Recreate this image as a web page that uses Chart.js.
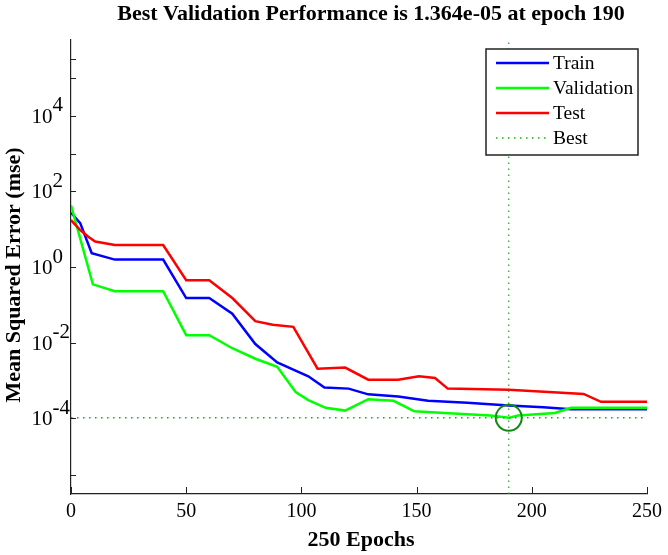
<!DOCTYPE html>
<html>
<head>
<meta charset="utf-8">
<script src="https://cdn.jsdelivr.net/npm/chart.js@4.4.1/dist/chart.umd.min.js"></script>
<style>
  html, body { margin: 0; padding: 0; background: #fff; }
  #wrap { width: 668px; height: 555px; }
</style>
</head>
<body>
<div id="wrap"><canvas id="perfChart" width="668" height="555"></canvas></div>
<script>
// values (epoch, mse)
const trainEpochs = [0, 4, 9, 19, 40, 50, 60, 70, 80, 89.5, 96, 103, 110, 120.5, 129, 142, 155, 172, 190, 205, 217, 250];
const trainMse = [27.2, 14.4, 2.31, 1.57, 1.58, 0.151, 0.151, 0.0585, 0.0092, 0.0030, 0.0020, 0.00129, 6.5e-4, 6.1e-4, 4.3e-4, 3.76e-4, 2.91e-4, 2.6e-4, 2.2e-4, 1.95e-4, 1.75e-4, 1.75e-4];

const validEpochs = [0, 9.5, 19, 40, 50, 60, 70, 80, 89.5, 97.5, 103, 110.5, 119, 129, 140, 149, 162, 182, 190, 194, 210, 217, 250];
const validMse = [42.6, 0.348, 0.23, 0.23, 0.0158, 0.0158, 0.00713, 0.00376, 0.0023, 4.95e-4, 3.03e-4, 1.9e-4, 1.6e-4, 3.2e-4, 2.91e-4, 1.53e-4, 1.38e-4, 1.19e-4, 1.03e-4, 1.19e-4, 1.38e-4, 1.9e-4, 1.9e-4];

const testEpochs = [0, 4, 7.5, 10.5, 19, 40, 50, 60, 70, 80, 87.5, 96.5, 107, 119, 129, 142, 151, 158, 163.5, 190, 222.5, 230, 250];
const testMse = [17.4, 9.5, 6.28, 4.72, 3.8, 3.8, 0.449, 0.449, 0.151, 0.0369, 0.0298, 0.0262, 0.00206, 0.0022, 0.00105, 0.00105, 0.00129, 0.00116, 6.1e-4, 5.7e-4, 4.43e-4, 2.73e-4, 2.73e-4];

const bestEpoch = 190;
const bestMse = 1.03e-4;
const totalEpochs = 250;

const xTicks = [0, 50, 100, 150, 200, 250];
const yMin = 1e-6, yMax = 1e6;
const yTickPowers = [5.5, 5, 4, 3, 2, 0, -2, -4, -5.5];
const yLabelPowers = [4, 2, 0, -2, -4];

const titleText = 'Best Validation Performance is 1.364e-05 at epoch 190';
const xTitle = '250 Epochs';
const yTitle = 'Mean Squared Error (mse)';

const serif = '"Liberation Serif", "Times New Roman", serif';
const toXY = (xs, ys) => xs.map((v, i) => ({x: v, y: ys[i]}));

// ticks, tick labels, titles and legend drawn the MATLAB way
const matlabLook = {
  id: 'matlabLook',
  afterDraw(chart) {
    const {ctx, chartArea: area, scales: {x, y}} = chart;
    ctx.save();

    ctx.strokeStyle = '#222';
    ctx.lineWidth = 1;
    ctx.beginPath();
    xTicks.forEach(v => {
      const px = Math.round(x.getPixelForValue(v)) + 0.5;
      ctx.moveTo(px, area.bottom);
      ctx.lineTo(px, area.bottom - 7);
    });
    yTickPowers.forEach(p => {
      const py = Math.round(y.getPixelForValue(Math.pow(10, p))) + 0.5;
      ctx.moveTo(area.left, py);
      ctx.lineTo(area.left + 5, py);
    });
    ctx.stroke();

    ctx.fillStyle = '#000';
    ctx.font = '21px ' + serif;
    ctx.textAlign = 'left';
    ctx.textBaseline = 'alphabetic';
    const baseW = ctx.measureText('10').width;
    yLabelPowers.forEach(p => {
      const py = y.getPixelForValue(Math.pow(10, p));
      ctx.fillText('10', 31.5, py + 7);
      ctx.fillText(String(p), 31.5 + baseW, py - 4.5);
    });

    ctx.font = 'bold 22px ' + serif;
    ctx.textAlign = 'center';
    ctx.textBaseline = 'middle';
    const cx = (area.left + area.right) / 2;
    ctx.fillText(titleText, cx + 12, 14);
    ctx.fillText(xTitle, cx + 2, 540);
    ctx.save();
    ctx.translate(14, 275);
    ctx.rotate(-Math.PI / 2);
    ctx.fillText(yTitle, 0, 0);
    ctx.restore();

    // legend box
    const lx = area.right - 161, ly = area.top + 9, lw = 152, lh = 106;
    ctx.fillStyle = '#fff';
    ctx.fillRect(lx, ly, lw, lh);
    ctx.strokeStyle = '#222';
    ctx.lineWidth = 1.5;
    ctx.strokeRect(lx, ly, lw, lh);
    ctx.font = '19.5px ' + serif;
    ctx.textAlign = 'left';
    const entries = chart.data.datasets.filter(d => d.legend);
    entries.forEach((d, i) => {
      const ey = ly + 14 + i * 25;
      ctx.beginPath();
      ctx.strokeStyle = d.borderColor;
      ctx.lineWidth = d.borderWidth;
      ctx.setLineDash(d.borderDash || []);
      ctx.moveTo(lx + 10, ey);
      ctx.lineTo(lx + 63, ey);
      ctx.stroke();
      ctx.setLineDash([]);
      ctx.fillStyle = '#000';
      ctx.fillText(d.label, lx + 67, ey + 1);
    });
    ctx.restore();
  }
};

const lineDefaults = {pointRadius: 0, fill: false, tension: 0, borderWidth: 2.5};

new Chart(document.getElementById('perfChart'), {
  type: 'line',
  data: {
    datasets: [
      {...lineDefaults, label: 'Train', legend: true, data: toXY(trainEpochs, trainMse), borderColor: '#0000ff', order: 6},
      {...lineDefaults, label: 'Validation', legend: true, data: toXY(validEpochs, validMse), borderColor: '#00ff00', order: 5},
      {...lineDefaults, label: 'Test', legend: true, data: toXY(testEpochs, testMse), borderColor: '#ff0000', order: 4},
      {...lineDefaults, label: 'Best', legend: true, data: [{x: 0, y: bestMse}, {x: totalEpochs, y: bestMse}],
        borderColor: '#10b010', borderWidth: 1.5, borderDash: [1.5, 4.5], order: 3},
      {...lineDefaults, label: 'bestEpoch', data: [{x: bestEpoch, y: yMin}, {x: bestEpoch, y: yMax}],
        borderColor: '#10b010', borderWidth: 1.2, borderDash: [1.5, 4.5], order: 2},
      {label: 'bestPoint', data: [{x: bestEpoch, y: bestMse}], showLine: false,
        pointRadius: 13, pointHoverRadius: 13, pointStyle: 'circle', borderColor: '#138a13',
        backgroundColor: 'rgba(0,0,0,0)', borderWidth: 2, order: 1}
    ]
  },
  options: {
    responsive: false,
    animation: false,
    devicePixelRatio: 1,
    layout: {padding: {top: 40, right: 18, left: 0, bottom: 0}},
    plugins: {legend: {display: false}, title: {display: false}, tooltip: {enabled: false}},
    scales: {
      x: {
        type: 'linear', min: 0, max: totalEpochs,
        afterBuildTicks: s => { s.ticks = xTicks.map(v => ({value: v})); },
        afterFit: s => { s.height = 61; },
        grid: {display: false, drawTicks: false},
        border: {display: true, color: '#222', width: 1.2},
        ticks: {color: '#000', font: {family: serif, size: 20}, padding: 6, maxRotation: 0}
      },
      y: {
        type: 'logarithmic', min: yMin, max: yMax,
        afterFit: s => { s.width = 71; },
        grid: {display: false, drawTicks: false},
        border: {display: true, color: '#222', width: 1.2},
        ticks: {display: false}
      }
    }
  },
  plugins: [matlabLook]
});
</script>
</body>
</html>
